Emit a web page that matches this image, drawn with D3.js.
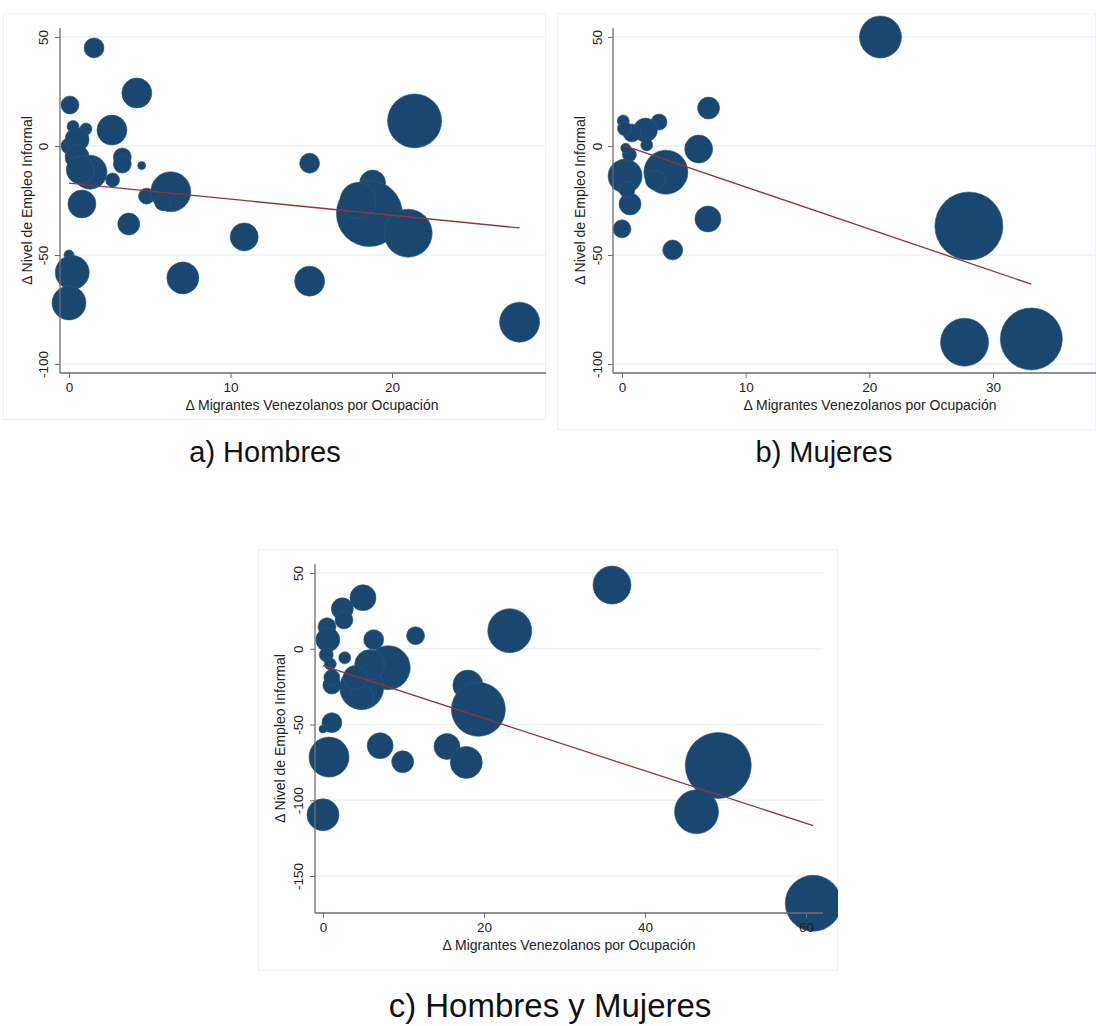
<!DOCTYPE html>
<html>
<head>
<meta charset="utf-8">
<script src="https://cdn.jsdelivr.net/npm/d3@7"></script>
<style>
  html, body { margin: 0; padding: 0; background: #ffffff; }
  svg { display: block; font-family: "Liberation Sans", Arial, Helvetica, sans-serif; }
</style>
</head>
<body>
<svg id="chart" width="1096" height="1026"></svg>
<script>
// ---- Data: Δ migrantes venezolanos (x), Δ empleo informal (y), peso de la ocupación (w)
// a) Hombres
const xHombres = [1.55, 4.2, 0.06, 2.66, 0.25, 1.05, 3.3, 3.3, 4.5, 0.0, 0.5, 0.5, 1.3, 0.7, 2.7, 0.8, 3.7, 4.8, 6.3, 5.8, 10.85, 0.0, 0.2, 0.0, 7.05, 14.9, 27.9, 14.9, 21.4, 18.8, 18.6, 21.0, 17.9];
const yHombres = [45, 24.3, 18.8, 7.3, 9, 7.8, -5, -8.3, -9, 0, 3, -5, -12, -11, -15.6, -26.6, -35.8, -23, -21, -26, -41.7, -50, -58, -72, -60.5, -62, -80.8, -7.9, 11.5, -17, -31, -40, -25];
const wHombres = [100, 225, 81, 225, 36, 36, 81, 81, 16, 64, 144, 144, 289, 196, 49, 196, 121, 64, 400, 64, 196, 25, 289, 289, 256, 225, 400, 100, 729, 169, 1089, 576, 324];
const fitHombres = { b0: -17, b1: -0.738, xmin: 0, xmax: 27.9 };

// b) Mujeres
const xMujeres = [20.9, 28.05, 27.7, 33.1, 7.0, 6.2, 3.55, 2.7, 0.25, 0.65, 0.1, 3.0, 1.9, 0.8, 2.0, 0.6, 0.4, 0.0, 4.1, 6.95, 0.3, 0.2];
const yMujeres = [50, -36.7, -90, -88.5, 17.4, -1.4, -12, -15.6, -13.8, -26.6, 11.5, 11, 7.3, 6, 0.5, -4, -20, -38, -47.7, -33.5, -1, 8];
const wMujeres = [441, 1156, 576, 961, 121, 196, 484, 100, 289, 121, 36, 64, 144, 81, 36, 49, 64, 81, 100, 169, 25, 49];
const fitMujeres = { b0: 0.5, b1: -1.93, xmin: 0, xmax: 33.1 };

// c) Hombres y Mujeres
const xTotal = [4.97, 2.4, 2.6, 0.5, 0.6, 6.3, 11.5, 23.2, 35.9, 8.1, 4.8, 5.8, 2.7, 1.1, 1.1, 4.8, 4.0, 18.0, 19.3, 1.1, 0.0, 0.75, 7.1, 9.9, 15.4, 17.8, 0.0, 49.1, 46.4, 60.9, 0.4, 0.9];
const yTotal = [33.7, 26.4, 19, 14.5, 6, 6, 8.6, 11.9, 42, -12.5, -25.7, -10.5, -6, -24, -19, -32, -19, -24, -40, -48.8, -53, -71.5, -64, -74.6, -64.5, -75, -109.6, -77, -107.6, -168, -4, -10];
const wTotal = [169, 121, 81, 81, 144, 100, 81, 484, 361, 484, 484, 225, 36, 81, 64, 144, 144, 225, 729, 100, 16, 400, 169, 121, 169, 256, 256, 1089, 484, 784, 49, 36];
const fitTotal = { b0: -11.2, b1: -1.734, xmin: 0, xmax: 60.9 };

// ---- Tick labels and text
const yTicksAB = [-100, -50, 0, 50];
const xTicksAB = [0, 10, 20, 30];
const yTicksC = [-150, -100, -50, 0, 50];
const xTicksC = [0, 20, 40, 60];
const xTitle = "Δ Migrantes Venezolanos por Ocupación";
const yTitle = "Δ Nivel de Empleo Informal";
const captions = ["a) Hombres", "b) Mujeres", "c) Hombres y Mujeres"];

// ---- Styles
const BUBBLE = "#1a476f";
const FIT = "#90353b";
const GRID = "#eaf2f3";
const AXIS = "#6d6d6d";
const FRAME = "#eef2f4";

const svg = d3.select("#chart");
const rScale = d3.scaleSqrt().domain([0, 100]).range([0, 10]);
const plainInt = d => String(d);   // ASCII hyphen for negatives

function drawPanel(cfg) {
  const g = svg.append("g");
  const clipId = "clip-" + cfg.id;
  g.append("clipPath").attr("id", clipId)
    .append("rect").attr("x", cfg.frame.x).attr("y", cfg.frame.y)
    .attr("width", cfg.frame.w).attr("height", cfg.frame.h);

  // panel frame
  g.append("rect")
    .attr("x", cfg.frame.x + 0.5).attr("y", cfg.frame.y + 0.5)
    .attr("width", cfg.frame.w - 1).attr("height", cfg.frame.h - 1)
    .attr("fill", "#ffffff").attr("stroke", FRAME).attr("stroke-width", 1);

  const x = d3.scaleLinear().domain(cfg.xDom).range(cfg.xRng);
  const y = d3.scaleLinear().domain(cfg.yDom).range(cfg.yRng);
  const left = cfg.plot.left, right = cfg.plot.right, top = cfg.plot.top, bottom = cfg.plot.bottom;

  const inner = g.append("g").attr("clip-path", `url(#${clipId})`);

  // grid lines
  inner.selectAll("line.grid").data(cfg.yTicks).join("line")
    .attr("class", "grid")
    .attr("x1", left).attr("x2", right)
    .attr("y1", d => y(d)).attr("y2", d => y(d))
    .attr("stroke", GRID).attr("stroke-width", 1.4);

  // bubbles
  const pts = cfg.xs.map((v, i) => ({ x: v, y: cfg.ys[i], w: cfg.ws[i] }));
  inner.selectAll("circle").data(pts).join("circle")
    .attr("cx", d => x(d.x)).attr("cy", d => y(d.y))
    .attr("r", d => rScale(d.w))
    .attr("fill", BUBBLE)
    .attr("stroke", "#2a5a80").attr("stroke-width", 0.6);

  // fitted line
  const fit = cfg.fit;
  const line = d3.line().x(d => x(d)).y(d => y(fit.b0 + fit.b1 * d));
  inner.append("path").datum([fit.xmin, fit.xmax])
    .attr("d", line).attr("fill", "none")
    .attr("stroke", FIT).attr("stroke-width", 1.3);

  // y axis
  const yAxis = d3.axisLeft(y).tickValues(cfg.yTicks).tickSize(5).tickFormat(plainInt);
  const ya = inner.append("g").attr("transform", `translate(${left},0)`).call(yAxis);
  ya.select(".domain").remove();
  ya.selectAll(".tick line").attr("stroke", AXIS);
  ya.selectAll(".tick text")
    .attr("x", 0).attr("dy", 0).attr("y", 0)
    .attr("transform", `translate(${-cfg.yLabelOff},0) rotate(-90)`)
    .attr("text-anchor", "middle").attr("dominant-baseline", "central")
    .attr("font-size", 13.5).attr("fill", "#222");
  inner.append("line").attr("x1", left).attr("x2", left).attr("y1", top).attr("y2", bottom)
    .attr("stroke", AXIS).attr("stroke-width", 1.3);

  // x axis
  const xAxis = d3.axisBottom(x).tickValues(cfg.xTicks).tickSize(5).tickFormat(plainInt);
  const xa = inner.append("g").attr("transform", `translate(0,${bottom})`).call(xAxis);
  xa.select(".domain").remove();
  xa.selectAll(".tick line").attr("stroke", AXIS);
  xa.selectAll(".tick text").attr("y", 9).attr("dy", "0.71em")
    .attr("font-size", 13.5).attr("fill", "#222");
  inner.append("line").attr("x1", left).attr("x2", right).attr("y1", bottom).attr("y2", bottom)
    .attr("stroke", AXIS).attr("stroke-width", 1.3);

  // axis titles
  inner.append("text").attr("x", (left + right) / 2).attr("y", bottom + 37)
    .attr("text-anchor", "middle").attr("font-size", 14).attr("fill", "#222")
    .text(xTitle);
  inner.append("text")
    .attr("transform", `translate(${left - cfg.yTitleOff},${(top + bottom) / 2}) rotate(-90)`)
    .attr("text-anchor", "middle").attr("font-size", 14).attr("fill", "#222")
    .text(yTitle);

  // caption under the panel
  svg.append("text").attr("x", cfg.caption.x).attr("y", cfg.caption.y)
    .attr("text-anchor", "middle").attr("font-size", cfg.caption.size).attr("fill", "#111")
    .text(cfg.caption.text);
}

drawPanel({
  id: "a", xs: xHombres, ys: yHombres, ws: wHombres, fit: fitHombres,
  frame: { x: 3, y: 13, w: 543, h: 407 },
  plot: { left: 60, right: 564, top: 28, bottom: 373 },
  xDom: [0, 20], xRng: [69, 392], yDom: [-100, 50], yRng: [364, 37],
  xTicks: xTicksAB, yTicks: yTicksAB, yLabelOff: 16.5, yTitleOff: 28,
  caption: { x: 265, y: 462, size: 29, text: captions[0] }
});

drawPanel({
  id: "b", xs: xMujeres, ys: yMujeres, ws: wMujeres, fit: fitMujeres,
  frame: { x: 557, y: 13, w: 539, h: 417 },
  plot: { left: 613, right: 1127, top: 28, bottom: 373 },
  xDom: [0, 30], xRng: [622, 993], yDom: [-100, 50], yRng: [364, 37],
  xTicks: xTicksAB, yTicks: yTicksAB, yLabelOff: 16, yTitleOff: 28,
  caption: { x: 824, y: 462, size: 29, text: captions[1] }
});

drawPanel({
  id: "c", xs: xTotal, ys: yTotal, ws: wTotal, fit: fitTotal,
  frame: { x: 258, y: 549, w: 580, h: 422 },
  plot: { left: 315, right: 823, top: 564, bottom: 913 },
  xDom: [0, 60], xRng: [323, 806], yDom: [-150, 50], yRng: [876, 573],
  xTicks: xTicksC, yTicks: yTicksC, yLabelOff: 17, yTitleOff: 30,
  caption: { x: 550, y: 1017, size: 33, text: captions[2] }
});
</script>
</body>
</html>
